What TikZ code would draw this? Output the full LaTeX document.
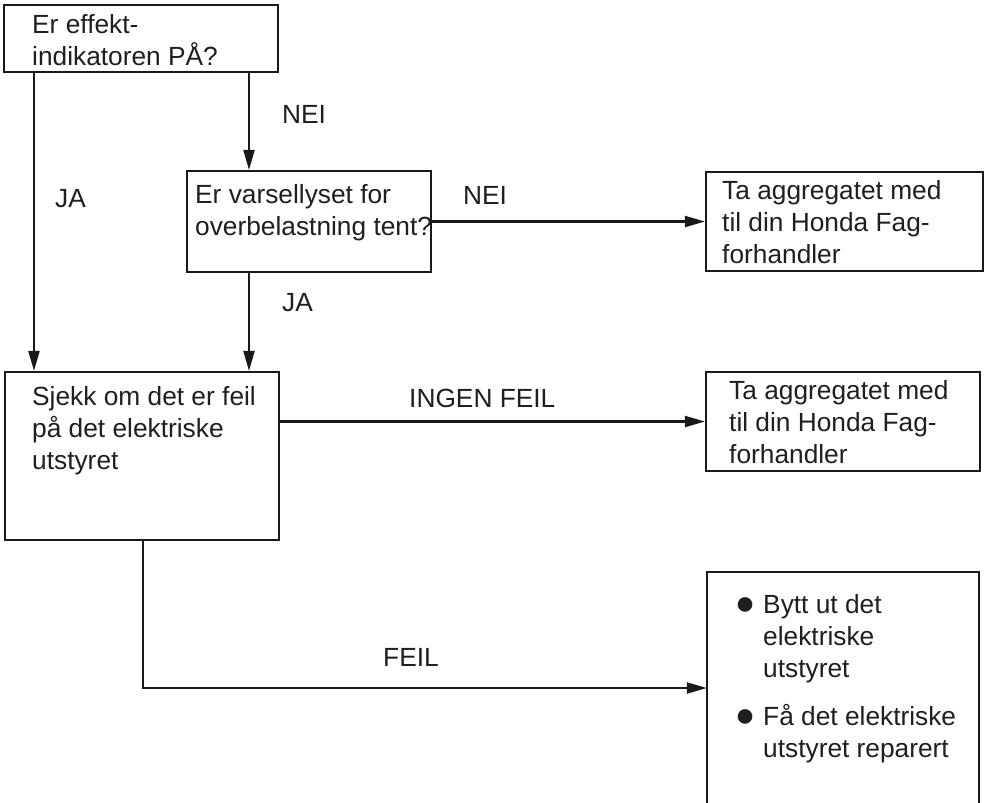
\documentclass[tikz,border=0pt]{standalone}
\usepackage{fontspec}
\setmainfont{Liberation Sans}
\usetikzlibrary{arrows.meta}
\newcommand{\mlines}[1]{\begin{tabular}[t]{@{}l@{}}#1\end{tabular}}
\newcommand{\bigbul}{\makebox[26pt][c]{\fontsize{34}{32}\selectfont\raisebox{-1.5pt}{●}}}
\tikzset{
  box/.style={draw=black!90, line width=2.2pt, rectangle, inner sep=0pt},
  openbox/.style={rectangle, inner sep=0pt, draw=none},
  txt/.style={anchor=base west, inner sep=0pt, text=black!88,
    font=\fontsize{26.3}{32}\selectfont},
  arr/.style={draw=black!90, line width=2.2pt,
    -{Triangle[length=20pt,width=11pt]}},
}
\begin{document}
\begin{tikzpicture}[x=1pt,y=-1pt]
\useasboundingbox[fill=white] (0,0) rectangle (988,803);
% boxes
\node[box, minimum width=274pt, minimum height=67pt] (b1) at (141,38.5) {};
\node[box, minimum width=244pt, minimum height=101pt] (b2) at (309,221.5) {};
\node[box, minimum width=277pt, minimum height=99pt] (b3) at (844.5,221.5) {};
\node[box, minimum width=274pt, minimum height=168pt] (b4) at (142,456) {};
\node[box, minimum width=274pt, minimum height=99pt] (b5) at (843,421.5) {};
\node[openbox, minimum width=272pt, minimum height=232pt] (b6) at (843,688) {};
\draw[black!90, line width=2.2pt] (b6.south west) -- (b6.north west) -- (b6.north east) -- (b6.south east);
% texts
\node[txt] (t1) at (32,33) {\mlines{Er effekt-\\indikatoren PÅ?}};
\node[txt] (t2) at (195,203) {\mlines{Er varsellyset for\\overbelastning tent?}};
\node[txt] (t3) at (722,199) {\mlines{Ta aggregatet med\\til din Honda Fag-\\forhandler}};
\node[txt] (t4) at (32,405) {\mlines{Sjekk om det er feil\\på det elektriske\\utstyret}};
\node[txt] (t5) at (729,399) {\mlines{Ta aggregatet med\\til din Honda Fag-\\forhandler}};
\node[txt] (t6) at (732,613) {\begin{tabular}[t]{@{}l@{\hspace{5pt}}l@{}}
\bigbul&Bytt ut det\\ &elektriske\\ &utstyret\\[16pt]
\bigbul&Få det elektriske\\ &utstyret reparert\end{tabular}};
% labels
\node[txt] (l1) at (282,123) {NEI};
\node[txt] (l2) at (55,207) {JA};
\node[txt] (l3) at (463,204) {NEI};
\node[txt] (l4) at (282,311) {JA};
\node[txt] (l5) at (409,407) {INGEN FEIL};
\node[txt] (l6) at (383,666) {FEIL};
% connectors
\coordinate (xa) at (34,0);
\coordinate (xb) at (249,0);
\coordinate (xc) at (143,0);
\draw[arr] (b1.south -| xa) -- (b4.north -| xa);
\draw[arr] (b1.south -| xb) -- (b2.north -| xb);
\draw[arr] (b2.east) -- (b3.west);
\draw[arr] (b2.south -| xb) -- (b4.north -| xb);
\draw[arr] (b4.east |- b5.west) -- (b5.west);
\draw[arr] (b4.south -| xc) |- (b6.west);
\end{tikzpicture}
\end{document}
